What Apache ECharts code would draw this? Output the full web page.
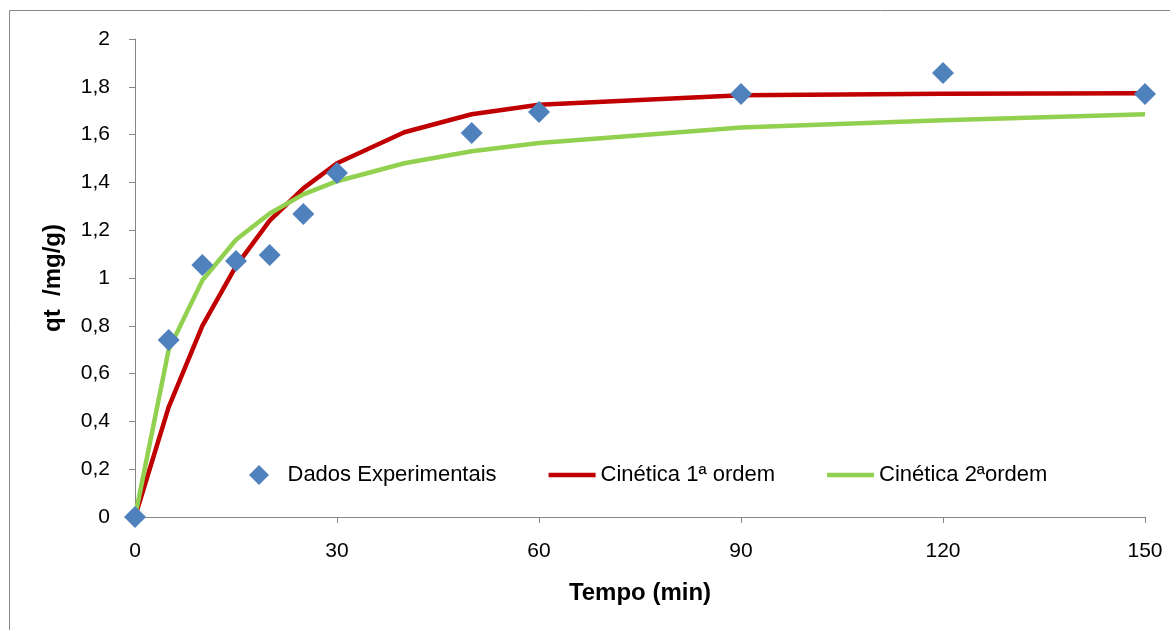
<!DOCTYPE html>
<html>
<head>
<meta charset="utf-8">
<script src="https://cdn.jsdelivr.net/npm/echarts@6/dist/echarts.min.js"></script>
<style>html,body{margin:0;padding:0;background:#fff;}#c{width:1170px;height:630px;}</style>
</head>
<body>
<div id="c"></div>
<script>
const tempo = [0, 5, 10, 15, 20, 25, 30, 50, 60, 90, 120, 150];
const dadosExperimentais = [0, 0.741, 1.054, 1.071, 1.096, 1.268, 1.439, 1.607, 1.695, 1.770, 1.858, 1.770];
const tempoModelo = [0, 5, 10, 15, 20, 25, 30, 40, 50, 60, 90, 120, 150];
const cinetica1 = [0, 0.46, 0.80, 1.05, 1.24, 1.375, 1.48, 1.61, 1.685, 1.725, 1.765, 1.771, 1.773];
const cinetica2 = [0, 0.70, 0.99, 1.16, 1.27, 1.35, 1.405, 1.48, 1.53, 1.565, 1.63, 1.66, 1.685];
const xTicks = [0, 30, 60, 90, 120, 150];
const yTicks = [0, 0.2, 0.4, 0.6, 0.8, 1, 1.2, 1.4, 1.6, 1.8, 2];

const font = "'Liberation Sans', sans-serif";
const zip = (xs, ys) => xs.map((x, i) => [x, ys[i]]);
const lineIcon = 'path://M0,0H47V4.5H0Z';
const diamondIcon = 'path://M10,0L20,10L10,20L0,10Z';

const chart = echarts.init(document.getElementById('c'), null, {renderer: 'canvas'});
chart.setOption({
  animation: false,
  backgroundColor: '#fff',
  textStyle: {fontFamily: font},
  graphic: [{
    type: 'rect', shape: {x: 9.5, y: 10.5, width: 1200, height: 700},
    style: {fill: 'none', stroke: '#868686', lineWidth: 1}, silent: true
  }],
  grid: {left: 135, right: 25, top: 39, bottom: 113},
  legend: {
    left: 244, top: 459,
    itemWidth: 47, itemHeight: 20, itemGap: 52,
    symbolKeepAspect: true,
    textStyle: {fontFamily: font, fontSize: 22, color: '#000'},
    data: [
      {name: 'Dados Experimentais', icon: diamondIcon},
      {name: 'Cinética 1ª ordem', icon: lineIcon},
      {name: 'Cinética 2ªordem', icon: lineIcon}
    ]
  },
  xAxis: {
    type: 'value', min: 0, max: 150, interval: 30,
    name: 'Tempo (min)', nameLocation: 'middle', nameGap: 64,
    nameTextStyle: {fontFamily: font, fontSize: 24, fontWeight: 'bold', color: '#000'},
    axisLine: {lineStyle: {color: '#868686', width: 1}},
    axisTick: {show: true, length: 6, lineStyle: {color: '#868686'}},
    axisLabel: {fontFamily: font, fontSize: 21, color: '#000', margin: 24,
      formatter: v => xTicks.includes(v) ? String(v) : ''},
    splitLine: {show: false}
  },
  yAxis: {
    type: 'value', min: 0, max: 2, interval: 0.2,
    name: 'qt  /mg/g)', nameLocation: 'middle', nameGap: 70, nameRotate: 90,
    nameTextStyle: {fontFamily: font, fontSize: 24, fontWeight: 'bold', color: '#000'},
    axisLine: {show: true, lineStyle: {color: '#868686', width: 1}},
    axisTick: {show: true, length: 6, lineStyle: {color: '#868686'}},
    axisLabel: {fontFamily: font, fontSize: 21, color: '#000', margin: 25,
      formatter: v => {
        const t = yTicks.find(y => Math.abs(y - v) < 1e-9);
        return t === undefined ? '' : String(Math.round(t * 10) / 10).replace('.', ',');
      }},
    splitLine: {show: false}
  },
  series: [
    {
      name: 'Cinética 1ª ordem', type: 'line', data: zip(tempoModelo, cinetica1),
      showSymbol: false, symbol: 'none', z: 2,
      lineStyle: {color: '#C00000', width: 4.5}, itemStyle: {color: '#C00000'}
    },
    {
      name: 'Cinética 2ªordem', type: 'line', data: zip(tempoModelo, cinetica2),
      showSymbol: false, symbol: 'none', z: 2,
      lineStyle: {color: '#92D050', width: 4.5}, itemStyle: {color: '#92D050'}
    },
    {
      name: 'Dados Experimentais', type: 'scatter', data: zip(tempo, dadosExperimentais),
      symbol: 'diamond', symbolSize: 22, z: 5,
      itemStyle: {color: '#4F81BD', opacity: 1}
    }
  ]
});
</script>
</body>
</html>
